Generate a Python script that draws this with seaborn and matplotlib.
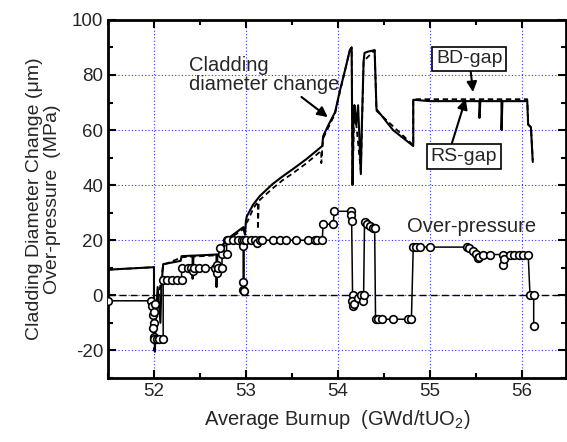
import numpy as np
import matplotlib
matplotlib.use("Agg")
import matplotlib.pyplot as plt
from matplotlib.ticker import MultipleLocator
import seaborn as sns

# over-pressure (MPa), line with open circles
op_x = [51.50, 51.97, 51.98, 51.99, 52.00, 51.99, 52.00, 52.01, 52.00, 52.00, 52.03, 52.06, 52.10,
        52.10, 52.14, 52.20, 52.25, 52.30, 52.30, 52.37, 52.40, 52.42, 52.43, 52.49, 52.55, 52.66,
        52.68, 52.69, 52.70, 52.74, 52.74, 52.72, 52.79, 52.79, 52.80, 52.86, 52.91, 52.96, 52.97,
        52.97, 52.97, 52.98, 52.98, 53.00, 53.05, 53.10, 53.12, 53.15, 53.18, 53.29, 53.37, 53.44,
        53.55, 53.67, 53.75, 53.77, 53.83, 53.84, 53.95, 53.96, 54.14, 54.14, 54.15, 54.16, 54.15,
        54.16, 54.18, 54.22, 54.25, 54.27, 54.28, 54.29, 54.32, 54.35, 54.38, 54.40, 54.41, 54.44,
        54.48, 54.60, 54.76, 54.80, 54.82, 54.85, 54.89, 55.00, 55.40, 55.43, 55.47, 55.50, 55.52,
        55.53, 55.58, 55.65, 55.80, 55.80, 55.81, 55.87, 55.92, 55.97, 56.01, 56.07, 56.09, 56.13,
        56.13]
op_y = [-2.0, -2.0, -4.0, -7.0, -10.0, -12.0, -6.0, -3.0, -15.0, -16.0, -16.0, -16.0, -16.0,
        5.5, 5.5, 5.5, 5.5, 5.5, 10.0, 10.0, 10.0, 9.0, 10.0, 10.0, 10.0, 10.0,
        8.0, 11.0, 10.0, 10.0, 15.0, 17.0, 15.0, 20.0, 20.0, 20.0, 20.0, 20.0, 18.0,
        5.0, 2.0, 1.5, 20.0, 20.0, 20.0, 20.0, 19.0, 20.0, 20.0, 20.0, 20.0, 20.0,
        20.0, 20.0, 20.0, 20.0, 20.0, 25.8, 25.8, 30.5, 30.5, 29.0, 27.0, 0.0, -2.0,
        -4.0, -3.0, -1.0, 0.0, -2.0, 0.0, 26.5, 26.0, 25.0, 24.5, 24.4, -8.7, -8.7,
        -8.7, -8.7, -8.7, -8.7, 17.5, 17.5, 17.5, 17.5, 17.5, 17.0, 16.2, 15.0, 13.5,
        14.0, 14.8, 14.8, 14.8, 11.0, 13.0, 14.8, 14.8, 14.8, 14.8, 14.8, 0.0, 0.0,
        -11.2]

# cladding diameter change (um), RS-gap (solid)
rs_x = [51.50, 52.00, 52.00, 52.01, 52.02, 52.04, 52.07, 52.08, 52.10, 52.29, 52.30, 52.42, 52.42,
        52.43, 52.68, 52.68, 52.69, 52.72, 52.74, 52.80, 52.97, 52.99, 53.00, 53.01, 53.08, 53.15,
        53.29, 53.40, 53.51, 53.66, 53.83, 53.84, 53.90, 53.97, 54.02, 54.08, 54.13, 54.15, 54.16,
        54.17, 54.18, 54.20, 54.22, 54.25, 54.26, 54.28, 54.29, 54.33, 54.40, 54.42, 54.60, 54.82,
        54.82, 55.00, 55.54, 55.54, 55.55, 55.78, 55.78, 55.79, 56.06, 56.07, 56.10, 56.12]
rs_y = [9.3, 10.2, -5.0, -20.5, -8.0, 3.0, -10.0, 3.0, 11.3, 12.5, 14.2, 14.4, 6.0,
        14.4, 14.8, 3.0, 14.8, 15.0, 18.0, 20.5, 24.7, 22.0, 27.0, 28.7, 33.0, 36.0,
        40.4, 43.2, 45.8, 49.5, 54.2, 57.8, 62.0, 66.5, 74.0, 82.0, 89.0, 90.0, 40.0,
        65.0, 69.0, 62.0, 69.0, 44.0, 60.4, 85.0, 88.0, 88.5, 89.0, 67.6, 60.0, 54.2,
        71.0, 70.5, 70.5, 64.4, 70.5, 70.5, 60.0, 70.5, 70.5, 62.0, 61.0, 48.4]

# cladding diameter change (um), BD-gap (dashed)
bd_x = [51.50, 52.00, 52.00, 52.02, 52.10, 52.30, 52.72, 52.80, 52.97, 53.00, 53.02, 53.08, 53.13,
        53.13, 53.14, 53.29, 53.40, 53.51, 53.66, 53.82, 53.82, 53.83, 53.84, 53.97, 54.02, 54.13,
        54.15, 54.16, 54.18, 54.25, 54.28, 54.40, 54.42, 54.82, 54.82, 55.00, 55.50, 56.06, 56.07,
        56.10, 56.12]
bd_y = [9.3, 10.2, -20.0, -8.0, 11.0, 13.8, 14.6, 20.0, 24.0, 26.0, 27.0, 31.5, 34.0,
        24.0, 34.3, 38.8, 41.8, 44.3, 48.0, 52.5, 48.0, 53.0, 57.0, 66.0, 73.5, 89.0,
        90.0, 41.0, 69.0, 45.0, 85.0, 89.0, 67.0, 54.5, 71.2, 71.2, 71.2, 71.2, 62.0,
        61.0, 49.0]

sns.set_style("ticks")
plt.rcParams["font.family"] = ["Liberation Sans", "DejaVu Sans"]
plt.rcParams["mathtext.fontset"] = "custom"
plt.rcParams["mathtext.rm"] = "Liberation Sans"
plt.rcParams["axes.unicode_minus"] = False

fig, ax = plt.subplots(figsize=(5.67, 4.42), dpi=100)
fig.subplots_adjust(left=0.1905, right=0.998, top=0.955, bottom=0.145)

ax.grid(True, which="major", color="#3333ff", linestyle=(0, (1, 2)), linewidth=0.8)
ax.axhline(0, color="black", linestyle=(0, (5, 3)), linewidth=1.0, zorder=2)

sns.lineplot(x=bd_x, y=bd_y, sort=False, estimator=None, ax=ax, color="black",
             linewidth=1.3, zorder=3)
ax.lines[-1].set_linestyle((0, (3, 2)))
sns.lineplot(x=rs_x, y=rs_y, sort=False, estimator=None, ax=ax, color="black",
             linewidth=1.5, zorder=4)
sns.lineplot(x=op_x, y=op_y, sort=False, estimator=None, ax=ax, color="black",
             linewidth=1.1, marker="o", markersize=5.5, markerfacecolor="white",
             markeredgecolor="black", markeredgewidth=1.2, zorder=5)

ax.set_xlim(51.5, 56.48)
ax.set_ylim(-30, 100)
ax.xaxis.set_major_locator(MultipleLocator(1))
ax.xaxis.set_minor_locator(MultipleLocator(0.5))
ax.yaxis.set_major_locator(MultipleLocator(20))
ax.yaxis.set_minor_locator(MultipleLocator(10))
ax.tick_params(which="both", direction="in", top=True, right=True, labelsize=13.5,
               color="black", width=1.5)
ax.tick_params(which="major", length=6)
ax.tick_params(which="minor", length=3.5)
for s in ax.spines.values():
    s.set_linewidth(2)
    s.set_color("black")

ax.set_xlabel("Average Burnup  (GWd/tUO$_2$)", fontsize=14.5, labelpad=6)
ax.set_ylabel("Cladding Diameter Change (\u03bcm)\nOver-pressure  (MPa)", fontsize=14,
              labelpad=8, linespacing=1.05)

ax.annotate("Cladding\ndiameter change", xy=(53.89, 64.7), xytext=(52.38, 87),
            fontsize=14.5, va="top", ha="left", linespacing=1.0,
            arrowprops=dict(arrowstyle="-|>", color="black", lw=1.5, mutation_scale=15,
                            shrinkA=0, shrinkB=0, relpos=(0.72, 0.0)))
ax.text(55.45, 24.8, "Over-pressure", fontsize=14.5, ha="center", va="center")
box = dict(boxstyle="square,pad=0.2", facecolor="white", edgecolor="black", linewidth=1.2)
ax.annotate("BD-gap", xy=(55.47, 73.8), xytext=(55.43, 85.8), fontsize=14,
            ha="center", va="center", bbox=box,
            arrowprops=dict(arrowstyle="-|>", color="black", lw=1.5, mutation_scale=15,
                            shrinkA=0, shrinkB=0))
ax.annotate("RS-gap", xy=(55.39, 71.3), xytext=(55.37, 50.5), fontsize=14,
            ha="center", va="center", bbox=box,
            arrowprops=dict(arrowstyle="-|>", color="black", lw=1.5, mutation_scale=15,
                            shrinkA=0, shrinkB=0, relpos=(0.3, 1.0)))

fig.savefig("out.png", dpi=100)
